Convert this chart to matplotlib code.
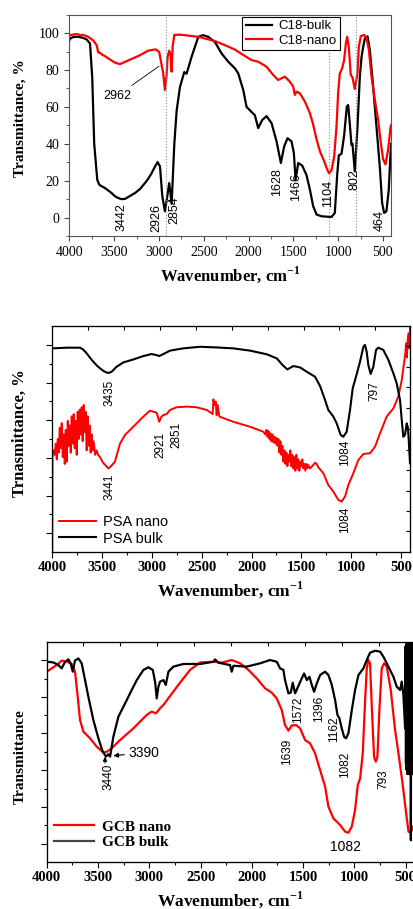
import matplotlib.pyplot as plt
from matplotlib.ticker import MultipleLocator, NullFormatter

plt.rcParams['font.family'] = ['Liberation Serif', 'DejaVu Serif']
plt.rcParams['mathtext.fontset'] = 'custom'
plt.rcParams['mathtext.rm'] = 'Liberation Serif'
plt.rcParams['mathtext.bf'] = 'Liberation Serif:bold'
SANS = 'Liberation Sans'

# ---- panel 1: C18 ----
wn_c18_bulk = [4000, 3992, 3950, 3900, 3850, 3806, 3769, 3744, 3722, 3688, 3665, 3640,
               3602, 3560, 3528, 3490, 3453, 3420, 3379, 3330, 3267, 3210, 3156, 3120,
               3082, 3040, 3014, 2988, 2962, 2933, 2907, 2885, 2858, 2828, 2802, 2765,
               2717, 2691, 2635, 2561, 2505, 2450, 2375, 2301, 2226, 2189, 2152, 2115,
               2059, 2022, 1967, 1929, 1892, 1847, 1799, 1743, 1687, 1639, 1602, 1565,
               1520, 1494, 1475, 1445, 1427, 1401, 1352, 1315, 1278, 1240, 1185, 1074,
               1037, 1011, 992, 962, 933, 903, 888, 870, 851, 840, 814, 784, 758, 739,
               721, 702, 672, 646, 609, 572, 535, 509, 487, 461, 435, 410]
t_c18_bulk = [96, 97, 98, 98, 97.5, 96.6, 94.4, 76, 40, 20.5, 17.8, 17,
              16, 14.5, 13.3, 11.5, 10.6, 10, 10.1, 11.5, 13.3, 15.5, 18.7, 21,
              24, 28, 30.1, 27.7, 11.5, 3.4, 11.5, 18.7, 7.4, 40, 58, 70.8,
              78.9, 78, 87.2, 98, 98.9, 98, 95.2, 89, 84.5, 82.7, 80.9, 78.2,
              69.2, 60, 57.3, 55.5, 48.5, 52.9, 55, 51.2, 41.3, 29.6, 38.6, 43,
              41.3, 35, 20.5, 29.6, 29, 28.2, 22.9, 15.1, 6.1, 1.6, 0.7, 0.3,
              2.5, 22.9, 33.7, 34.6, 44.5, 60.2, 61, 51, 39.4, 40, 25, 49.2, 76.2, 87,
              92.4, 97, 98.3, 90.8, 71, 49.2, 27.6, 7.9, 2.5, 3.4, 15, 40]

wn_c18_nano = [4000, 3992, 3950, 3918, 3880, 3844, 3788, 3732, 3695, 3676, 3660, 3639,
               3600, 3565, 3490, 3435, 3342, 3230, 3119, 3038, 2997, 2970, 2952, 2933,
               2914, 2903, 2885, 2870, 2858, 2847, 2828, 2765, 2561, 2375, 2264, 2152,
               2115, 1967, 1892, 1799, 1724, 1669, 1632, 1594, 1539, 1501, 1483, 1464,
               1427, 1371, 1315, 1278, 1240, 1203, 1155, 1129, 1103, 1074, 1044, 1018,
               1000, 981, 955, 933, 914, 899, 881, 859, 840, 814, 784, 769, 747, 710,
               683, 657, 628, 591, 554, 524, 498, 472, 442, 416, 410]
t_c18_nano = [98.5, 98.9, 99.3, 99.5, 99, 99, 98, 96, 93.5, 89.4, 89.5, 88.5,
              87.5, 86.3, 84, 83.2, 85.2, 87.6, 90.5, 91.2, 89.9, 82.7, 78.2, 69.2,
              77.4, 87.2, 90.5, 88.1, 79.1, 92.6, 99, 99.2, 98, 95.7, 93.5, 91.1,
              89.9, 85.4, 84.5, 81.8, 77.3, 74.6, 75.5, 76.4, 73.7, 71, 66.5, 68.3,
              67.4, 62.9, 56.6, 50.3, 42.2, 35.9, 30.5, 26.9, 24.1, 25.6, 33.2, 49.4,
              67.4, 78.2, 80.9, 85.4, 94.4, 98, 92.6, 77.3, 76, 69.7, 78.2, 92.6, 98.4, 99,
              97.3, 91, 76.6, 64, 53.2, 40.6, 31.6, 28.8, 36.9, 48.5, 50]

c18_marks = [2926, 1104, 802]
c18_labels = ['3442', '2926', '2854', '1628', '1466', '1104', '802', '464']
c18_label_x = [3420, 3025, 2832, 1680, 1464, 1111, 821, 535]
c18_label_y = [8, 7.6, 11.5, 27, 24, 20.5, 26, 4.3]

# ---- panel 2: PSA (arbitrary units) ----
wn_psa_bulk = [4000, 3856, 3722, 3690, 3655, 3620, 3588, 3555, 3521, 3485, 3454, 3430,
               3404, 3354, 3287, 3187, 3086, 3003, 2952, 2926, 2885, 2818, 2685, 2517,
               2350, 2183, 2015, 1848, 1747, 1687, 1640, 1580, 1513, 1446, 1363, 1312,
               1262, 1229, 1179, 1145, 1105, 1078, 1045, 1011, 984, 951, 911, 877, 861,
               844, 827, 804, 777, 750, 727, 677, 626, 576, 543, 509, 492, 476, 459,
               442, 430, 422, 409]
y_psa_bulk = [90, 90.3, 90.3, 89.5, 87.8, 85.8, 84.1, 82.5, 81.2, 80, 79.3, 79.2,
              79.7, 81.9, 83.8, 85.1, 86.6, 87.5, 87, 86.6, 87.5, 89, 90, 90.7,
              90.4, 90, 89, 87.4, 85.6, 82.6, 80.7, 82.2, 81.6, 79.7, 77.5, 73.4,
              67.2, 62.8, 59.9, 56.9, 51.8, 51, 53.2, 62.8, 72.4, 77.5, 84.1, 90.7, 91.5,
              88.5, 82.6, 78.7, 81.9, 89.3, 90.3, 89.3, 84.9, 79, 74.6, 67.2, 58.4, 51, 51.8,
              56.9, 55, 50, 39.3]

wn_psa_nano = [4000, 3998, 3985, 3975, 3965, 3955, 3945, 3935, 3925, 3915, 3905, 3895,
               3885, 3875, 3865, 3855, 3845, 3835, 3825, 3815, 3805, 3795, 3785, 3775,
               3765, 3755, 3745, 3735, 3725, 3715, 3705, 3695, 3685, 3675, 3665, 3655,
               3645, 3635, 3625, 3615, 3605, 3595, 3585, 3570, 3555, 3540, 3521, 3490,
               3454, 3435, 3410, 3371, 3345, 3320, 3270, 3187, 3086, 3019, 2980, 2952,
               2935, 2926, 2910, 2885, 2852, 2818, 2752, 2651, 2551, 2450, 2400, 2390,
               2383, 2370, 2360, 2350, 2340, 2323, 2183, 2015, 1881, 1860, 1850, 1840,
               1830, 1820, 1810, 1800, 1790, 1780, 1770, 1760, 1750, 1740, 1730, 1720,
               1710, 1700, 1690, 1680, 1670, 1660, 1650, 1640, 1630, 1620, 1610, 1600,
               1590, 1580, 1570, 1560, 1550, 1540, 1530, 1520, 1510, 1500, 1490, 1480,
               1470, 1460, 1450, 1440, 1430, 1413, 1380, 1363, 1345, 1329, 1279, 1229,
               1179, 1128, 1095, 1061, 1028, 978, 928, 877, 810, 760, 710, 643, 576,
               526, 492, 469, 455, 449, 440, 432, 422, 416, 409]
y_psa_nano = [0, 42, 45, 43, 48, 41, 50, 44, 55, 46, 57, 42,
              52, 39, 54, 40, 58, 47, 56, 44, 60, 48, 61, 46,
              58, 43, 62, 50, 63, 52, 64, 49, 65, 53, 62, 45,
              60, 47, 56, 44, 52, 45, 49, 43, 45, 43, 42, 39.5,
              37.8, 37, 38, 40, 44, 48, 51.8, 55.4, 59.9, 62.5, 62, 61.6,
              59, 57.6, 59.5, 60.6, 61, 62.8, 64, 64.3, 64, 62.8, 61.3, 61,
              67.5, 65, 66.5, 60.5, 65, 59.9, 57.6, 55.4, 53.2, 52, 54, 51,
              53.5, 50, 52.5, 49, 52, 48.5, 51, 48, 50.5, 47, 50, 44,
              49, 43, 47, 40, 45, 39, 44, 38, 43, 40, 45, 38,
              43, 37, 42, 36, 43, 37, 41, 36, 40, 38, 41, 37,
              39, 36, 39, 37, 38.5, 37, 38.5, 39.5, 39, 37.5, 34.9, 29.7,
              26.8, 23.1, 22.4, 24.6, 29.7, 34.9, 40.7, 43.4, 43.7, 46.6, 52.5, 59.9, 63.5,
              68.7, 76, 83.4, 88, 92.2, 86, 94, 96.6, 90, 99.6]

psa_labels = ['3435', '3441', '2921', '2851', '1084', '1084', '797']
psa_label_x = [3421, 3421, 2919, 2752, 1061, 1061, 770]
psa_label_y = [76, 34.9, 53.2, 57.6, 49.6, 20.1, 75.3]

# ---- panel 3: GCB (arbitrary units) ----
wn_gcb_bulk = [4000, 3935, 3886, 3854, 3821, 3789, 3766, 3746, 3724, 3691, 3659, 3626,
               3594, 3545, 3496, 3454, 3421, 3399, 3382, 3350, 3301, 3252, 3187, 3122,
               3057, 3008, 2966, 2943, 2927, 2911, 2895, 2862, 2839, 2813, 2765, 2667,
               2505, 2374, 2358, 2326, 2212, 2196, 2179, 2049, 1919, 1822, 1757, 1724,
               1692, 1676, 1643, 1620, 1601, 1578, 1546, 1513, 1490, 1464, 1438, 1415,
               1393, 1367, 1334, 1285, 1253, 1220, 1188, 1165, 1146, 1123, 1100, 1081,
               1058, 1025, 993, 960, 912, 879, 847, 798, 749, 717, 668, 619, 587, 554,
               538, 522, 505, 500, 497, 494, 491, 488, 485, 482, 479, 476, 473, 470,
               467, 464, 461, 458, 455, 452, 449, 446, 443, 440, 437, 434, 431, 428, 425]
y_gcb_bulk = [90.9, 90.6, 89.4, 87.9, 90.9, 92, 90.2, 86.4, 91.5, 92.4, 90.2, 82.6,
              75.1, 64.5, 56.2, 50.2, 47.9, 49, 47.9, 56.9, 66, 70.5, 76.6, 82.6,
              87.2, 88.4, 87.2, 81.9, 74.3, 79.5, 81.9, 82.6, 80.4, 86.4, 88.7, 89.9,
              89.9, 90.9, 92, 90.5, 89.4, 86.4, 89.1, 88.7, 90.2, 91.7, 90.9, 87.9,
              87.2, 82.6, 76.6, 76.9, 81.4, 76.6, 79.9, 83.4, 85.6, 82.6, 84.1, 80.4,
              77.3, 81, 84.9, 86.4, 84.9, 80.4, 73.6, 66.8, 65.3, 60.7, 56.9, 56.2,
              58.5, 69, 78.1, 84.9, 87.9, 91.7, 95, 95.9, 95.5, 93.2, 88.7, 84.1, 79.6, 78.1,
              81.9, 76, 60.7, 98, 45, 99, 42, 99, 40, 99, 42, 99, 40, 98,
              42, 99, 40, 99, 45, 98, 10, 99, 40, 99, 42, 99, 40, 99, 42]

wn_gcb_nano = [4000, 3902, 3854, 3805, 3756, 3724, 3701, 3675, 3642, 3577, 3512, 3447,
               3415, 3366, 3285, 3155, 3025, 2976, 2934, 2895, 2862, 2797, 2700, 2602,
               2505, 2374, 2293, 2196, 2114, 2033, 1952, 1871, 1806, 1757, 1708, 1676,
               1643, 1611, 1568, 1529, 1480, 1432, 1383, 1334, 1285, 1253, 1204, 1139,
               1090, 1058, 1025, 993, 967, 944, 918, 895, 879, 863, 847, 830, 808, 791,
               775, 756, 733, 710, 684, 645, 603, 570, 528, 495, 472, 450, 427]
y_gcb_nano = [86.4, 89.4, 91.4, 91, 89.9, 86.4, 76.6, 64.5, 59.2, 56.2, 52.4, 49.8,
              50.1, 51.7, 55.4, 60.7, 66.8, 68.3, 67.5, 69.8, 71.3, 75.4, 81.4, 87.2,
              90.6, 90.9, 90.5, 91.7, 90.2, 87.2, 83.4, 78.9, 76.9, 74.3, 69, 62.2,
              59.7, 62, 62.2, 60.7, 55.4, 53.9, 49.4, 41.8, 34.3, 25.2, 19.9, 16.9,
              13.9, 13.4, 16.2, 23.7, 35, 38, 49.4, 73.6, 87.9, 91.7, 90.2, 70.5, 47.9, 45.6,
              47.9, 69, 87.9, 90.2, 88.7, 78.1, 60, 49.4, 35, 22.2, 13.9, 13.4, 16.2]

gcb_labels = ['3440', '1639', '1572', '1396', '1162', '1082', '793']
gcb_label_x = [3399, 1659, 1545, 1341, 1198, 1090, 716]
gcb_label_y = [44.9, 56.2, 75.1, 75.4, 66, 50.2, 42.1]

# extra top/right ticks of the middle and bottom panels
top_ticks = [3642, 3281, 2921, 2560, 2199, 1838, 1478, 1117, 757]
right_ticks = [9.4, 18.4, 27.2, 36.3, 45.1, 54.4, 63.5, 72.8, 81.9, 90.9]
left_major = [8.4, 25, 41.8, 58.4, 74.9, 91.5]
left_minor = [16.7, 33.4, 50.1, 66.7, 83.2]
x_ticks = [4000, 3500, 3000, 2500, 2000, 1500, 1000, 500]

W, H = 413, 909
fig = plt.figure(figsize=(W / 100, H / 100), dpi=100)


def px_axes(left, top, right, bottom):
    return fig.add_axes([left / W, 1 - bottom / H, (right - left) / W, (bottom - top) / H])


XLABEL = r'Wavenumber, cm$^{\mathbf{-1}}$'

# ---------- top panel ----------
ax1 = px_axes(69.3, 14.7, 391, 236)
ax1.plot(wn_c18_bulk, t_c18_bulk, color='black', lw=1.6, label='C18-bulk')
ax1.plot(wn_c18_nano, t_c18_nano, color='red', lw=1.6, label='C18-nano')
for m in c18_marks:
    ax1.axvline(m, color='#888888', ls=':', lw=0.8)
ax1.set_xlim(4000, 410)
ax1.set_ylim(-10, 110)
ax1.set_xticks(x_ticks, [str(t) for t in x_ticks])
ax1.xaxis.set_minor_locator(MultipleLocator(250))
ax1.set_yticks([0, 20, 40, 60, 80, 100], ['0', '20', '40', '60', '80', '100'])
ax1.yaxis.set_minor_locator(MultipleLocator(10))
ax1.tick_params(which='both', direction='out', labelsize=10, color='#444444')
ax1.tick_params(which='major', length=3.5)
ax1.tick_params(which='minor', length=2.5)
for s in ax1.spines.values():
    s.set_color('#555555')
for txt, x, y in zip(c18_labels, c18_label_x, c18_label_y):
    ax1.text(x, y, txt, rotation=90, ha='center', va='top', fontsize=9, family=SANS)
ax1.annotate('2962', xy=(3000, 82), xytext=(3468, 66), ha='center', va='center',
             fontsize=9, family=SANS,
             arrowprops=dict(arrowstyle='-', color='black', lw=0.6, shrinkA=2, shrinkB=0))
leg = ax1.legend(loc='upper right', bbox_to_anchor=(0.842, 0.99), borderaxespad=0,
                 fancybox=False, edgecolor='black', framealpha=1,
                 prop={'family': SANS, 'size': 9.5}, handlelength=2.0,
                 borderpad=0.25, labelspacing=0.15, handletextpad=0.5)
leg.get_frame().set_linewidth(0.8)
fig.text(230 / W, 1 - 275 / H, XLABEL, ha='center', va='center', fontsize=12, fontweight='bold')
fig.text(20 / W, 1 - 118 / H, 'Transmittance, %', ha='center', va='center', rotation=90,
         fontsize=11, fontweight='bold')


def style_au_axes(ax, xmax):
    ax.set_xlim(4000, xmax)
    ax.set_ylim(0, 100)
    ax.set_xticks(x_ticks, [str(t) for t in x_ticks], fontweight='bold')
    ax.xaxis.set_minor_locator(MultipleLocator(250))
    ax.set_yticks(left_major)
    ax.set_yticks(left_minor, minor=True)
    ax.yaxis.set_major_formatter(NullFormatter())
    ax.tick_params(which='both', direction='out', labelsize=10.5, width=0.8, pad=2)
    ax.tick_params(which='major', length=4)
    ax.tick_params(which='minor', length=2.5)
    top = ax.twiny()
    top.set_xlim(4000, xmax)
    top.set_xticks(top_ticks)
    top.xaxis.set_major_formatter(NullFormatter())
    top.tick_params(direction='in', length=3, width=0.8)
    right = ax.twinx()
    right.set_ylim(0, 100)
    right.set_yticks(right_ticks)
    right.yaxis.set_major_formatter(NullFormatter())
    right.tick_params(direction='in', length=3, width=0.8)


# ---------- middle panel ----------
ax2 = px_axes(52.3, 325.7, 410, 552.3)
ax2.plot(wn_psa_nano, y_psa_nano, color='red', lw=1.4, label='PSA nano')
ax2.plot(wn_psa_bulk, y_psa_bulk, color='black', lw=1.5, label='PSA bulk')
style_au_axes(ax2, 409)
for txt, x, y in zip(psa_labels, psa_label_x, psa_label_y):
    ax2.text(x, y, txt, rotation=90, ha='center', va='top', fontsize=8.5, family=SANS)
ax2.legend(loc='lower left', bbox_to_anchor=(0.02, 0.03), borderaxespad=0, frameon=False,
           prop={'family': SANS, 'size': 10.5}, handlelength=2.5, borderpad=0,
           labelspacing=0.15, handletextpad=0.5)
fig.text(230 / W, 1 - 590 / H, XLABEL, ha='center', va='center', fontsize=12.5, fontweight='bold')
fig.text(20 / W, 1 - 433 / H, 'Trnasmittance, %', ha='center', va='center', rotation=90,
         fontsize=12, fontweight='bold')

# ---------- bottom panel ----------
ax3 = px_axes(46.7, 641.7, 420, 862.3)
ax3.plot(wn_gcb_nano, y_gcb_nano, color='red', lw=1.6, label='GCB nano')
ax3.plot(wn_gcb_bulk, y_gcb_bulk, color='black', lw=1.6, label='GCB bulk')
style_au_axes(ax3, 360)
for txt, x, y in zip(gcb_labels, gcb_label_x, gcb_label_y):
    ax3.text(x, y, txt, rotation=90, ha='center', va='top', fontsize=8.5, family=SANS)
ax3.text(1084, 7.1, '1082', ha='center', va='center', fontsize=10, family=SANS)
ax3.annotate('3390', xy=(3350, 48.3), xytext=(3203, 49.7), ha='left', va='center',
             fontsize=10, family=SANS,
             arrowprops=dict(arrowstyle='-|>', color='black', lw=0.8, mutation_scale=7,
                             shrinkA=1, shrinkB=0))
ax3.annotate('', xy=(3431, 47.9), xytext=(3431, 45),
             arrowprops=dict(arrowstyle='-|>', color='black', lw=0.8, mutation_scale=6,
                             shrinkA=0, shrinkB=0))
leg3 = ax3.legend(loc='lower left', bbox_to_anchor=(0.02, 0.06), borderaxespad=0,
                  frameon=False, prop={'size': 11, 'weight': 'bold'}, handlelength=2.6,
                  borderpad=0, labelspacing=0.1, handletextpad=0.5)
leg3.get_lines()[1].set_color('#444444')
fig.text(230 / W, 1 - 900 / H, XLABEL, ha='center', va='center', fontsize=12.5, fontweight='bold')
fig.text(20 / W, 1 - 757 / H, 'Transmittance', ha='center', va='center', rotation=90,
         fontsize=11, fontweight='bold')

fig.savefig('out.png', dpi=100)
